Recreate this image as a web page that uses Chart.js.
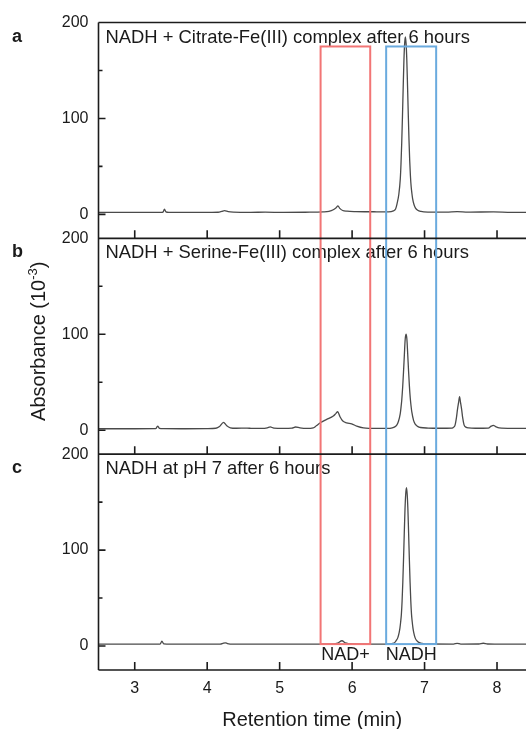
<!DOCTYPE html>
<html>
<head>
<meta charset="utf-8">
<script src="https://cdn.jsdelivr.net/npm/chart.js@4.4.1/dist/chart.umd.min.js"></script>
<style>
  html, body { margin: 0; padding: 0; background: #fff; }
  canvas { display: block; }
</style>
</head>
<body>
<canvas id="hplcChart" width="526" height="729"></canvas>
<script>
// Retention time (min) and absorbance (10^-3) for each chromatogram
const timeA = [2.50, 3.00, 3.37, 3.39, 3.41, 3.43, 3.47, 3.70, 3.95, 4.15, 4.20, 4.24, 4.29, 4.36, 4.60, 4.80, 5.05, 5.35,
  5.60, 5.68, 5.74, 5.78, 5.805, 5.83, 5.87, 5.93, 6.05, 6.30, 6.50, 6.57, 6.60, 6.62, 6.645, 6.665, 6.675, 6.685, 6.695,
  6.705, 6.715, 6.725, 6.735, 6.745, 6.755, 6.765, 6.775, 6.785, 6.795, 6.805, 6.815, 6.825, 6.835, 6.855, 6.875, 6.905,
  6.95, 7.05, 7.30, 7.45, 7.60, 7.95, 8.20, 8.40];
const absA = [2.0, 2.0, 2.1, 2.3, 5.3, 2.6, 2.1, 2.1, 2.0, 2.2, 3.0, 3.9, 2.8, 2.3, 2.1, 2.3, 2.0, 2.2,
  2.6, 3.2, 4.8, 7.0, 8.8, 6.2, 4.0, 3.3, 2.9, 2.7, 2.6, 3.6, 5.5, 11, 21, 37, 53, 75, 102,
  132, 160, 178, 185, 178, 161, 134, 105, 78, 56, 40, 29, 22, 16.5, 10, 6.5, 4.2,
  3.0, 2.4, 2.3, 2.8, 2.3, 2.6, 2.1, 2.1];

const timeB = [2.50, 3.00, 3.29, 3.316, 3.34, 3.40, 3.70, 4.00, 4.12, 4.17, 4.225, 4.27, 4.32, 4.40, 4.55, 4.62, 4.75,
  4.83, 4.87, 4.92, 5.05, 5.17, 5.22, 5.28, 5.373, 5.464, 5.51, 5.566, 5.649, 5.741, 5.778, 5.80, 5.833, 5.868, 5.925,
  5.994, 6.064, 6.156, 6.34, 6.50, 6.554, 6.589, 6.614, 6.639, 6.664, 6.674, 6.686, 6.698, 6.709, 6.721, 6.732, 6.744,
  6.756, 6.767, 6.779, 6.79, 6.802, 6.814, 6.824, 6.849, 6.874, 6.904, 6.944, 7.05, 7.20, 7.38, 7.40, 7.42, 7.44,
  7.455, 7.47, 7.483, 7.496, 7.511, 7.526, 7.545, 7.57, 7.61, 7.70, 7.88, 7.92, 7.95, 7.98, 8.03, 8.20, 8.40];
const absB = [1.5, 1.5, 1.6, 4.3, 2.0, 1.6, 1.5, 1.6, 2.0, 3.8, 8.2, 4.5, 2.5, 2.0, 2.2, 1.8, 1.8,
  2.4, 3.4, 2.2, 1.9, 2.2, 3.3, 2.4, 1.8, 2.4, 4.9, 8.0, 11.2, 14.7, 17.5, 19.2, 14.0, 9.8, 7.7,
  6.6, 4.2, 2.4, 1.8, 1.8, 2.5, 3.5, 5, 9, 17, 23, 32, 45, 60, 78, 94, 100,
  95, 80, 62, 47, 34, 25, 19, 10, 6, 4, 2.8, 2.2, 2.0, 2.2, 3.0, 5.0, 13,
  22, 29, 35, 29, 22, 13, 5.5, 3.2, 2.3, 2.0, 2.2, 4.2, 5.0, 3.8, 2.4, 1.9, 1.9];

const timeC = [2.50, 3.00, 3.35, 3.375, 3.40, 3.50, 3.90, 4.18, 4.225, 4.25, 4.28, 4.35, 4.80, 5.30, 5.70, 5.80, 5.86,
  5.91, 6.00, 6.30, 6.50, 6.56, 6.59, 6.61, 6.63, 6.65, 6.66, 6.67, 6.68, 6.69, 6.70, 6.71, 6.72, 6.73, 6.74, 6.75,
  6.76, 6.77, 6.78, 6.79, 6.80, 6.81, 6.82, 6.83, 6.84, 6.85, 6.87, 6.89, 6.92, 6.965, 7.05, 7.40, 7.45, 7.50, 7.75,
  7.81, 7.87, 8.10, 8.40];
const absC = [1.9, 1.9, 2.0, 5.0, 2.2, 1.9, 1.9, 2.0, 3.0, 3.3, 2.6, 2.0, 1.9, 1.9, 2.0, 3.0, 5.5,
  3.2, 2.2, 2.0, 2.0, 2.7, 3.8, 5.8, 8.5, 14.3, 18.7, 25, 33, 47, 66.8, 91, 117.5, 142.5, 158.5, 165,
  158.5, 142.5, 117.5, 91, 66.8, 47, 33, 25, 18.7, 14.3, 8.5, 5.8, 3.8, 2.7, 2.1, 2.0, 2.8, 2.0, 2.1,
  2.9, 2.1, 1.9, 1.9];

const panelTitles = [
  'NADH + Citrate-Fe(III) complex after 6 hours',
  'NADH + Serine-Fe(III) complex after 6 hours',
  'NADH at pH 7 after 6 hours'
];
const panelLetters = ['a', 'b', 'c'];
const xTicks = [3, 4, 5, 6, 7, 8];
const yTicks = [0, 50, 100, 150, 200];
const yTickLabels = [0, 100, 200];

// retention windows marked across all three runs
const windowLabels = ['NAD+', 'NADH'];
const windowRanges = [[5.565, 6.25], [6.47, 7.16]];
const windowTop = 175;    // read on the top panel
const windowBottom = 2;   // read on the bottom panel

const panelAxes = ['yA', 'yB', 'yC'];
const FONT = '"Liberation Sans", Arial, Helvetica, sans-serif';
const INK = '#1a1a1a';
const windowColors = ['#f27575', '#6aaade'];

Chart.defaults.font.family = FONT;
Chart.defaults.color = INK;

const toPoints = (t, a) => t.map((v, i) => ({ x: v, y: a[i] }));

function panelAxis(weight) {
  return {
    type: 'linear',
    position: 'left',
    stack: 'runs',
    weight: weight,
    min: -25,
    max: 200,
    grid: { display: false, drawTicks: false },
    border: { display: false },
    afterBuildTicks(scale) {
      scale.ticks = yTicks.map(v => ({ value: v }));
    },
    ticks: {
      autoSkip: false,
      padding: 10,
      font: { size: 16 },
      color: INK,
      callback: v => yTickLabels.includes(v) ? String(v) : ''
    },
    afterFit(scale) { scale.width = 98.5; }
  };
}

const panelDecor = {
  id: 'panelDecor',
  beforeDatasetsDraw(chart) {
    const { ctx, chartArea, scales } = chart;
    ctx.save();
    ctx.fillStyle = INK;
    ctx.textAlign = 'left';
    ctx.textBaseline = 'alphabetic';
    panelAxes.forEach((id, i) => {
      const s = scales[id];
      ctx.font = '18.4px ' + FONT;
      ctx.fillText(panelTitles[i], chartArea.left + 7, s.top + 20);
      ctx.font = 'bold 18px ' + FONT;
      ctx.fillText(panelLetters[i], 12, s.top + 19);
    });
    ctx.restore();
  },
  afterDatasetsDraw(chart) {
    const { ctx, chartArea, scales } = chart;
    const x = scales.x;
    ctx.save();

    // NAD+ / NADH windows
    ctx.lineWidth = 2;
    windowRanges.forEach((r, i) => {
      const left = x.getPixelForValue(r[0]);
      const right = x.getPixelForValue(r[1]);
      const top = scales.yA.getPixelForValue(windowTop);
      const bottom = scales.yC.getPixelForValue(windowBottom);
      ctx.strokeStyle = windowColors[i];
      ctx.strokeRect(left, top, right - left, bottom - top);
      ctx.fillStyle = INK;
      ctx.font = '18px ' + FONT;
      ctx.textAlign = 'center';
      ctx.textBaseline = 'alphabetic';
      ctx.fillText(windowLabels[i], (left + right) / 2, scales.yC.getPixelForValue(-15));
    });

    // panel frames with inward ticks
    ctx.strokeStyle = '#1c1c1c';
    ctx.lineWidth = 1.6;
    ctx.beginPath();
    ctx.moveTo(chartArea.left, chartArea.top);
    ctx.lineTo(chartArea.left, chartArea.bottom);
    panelAxes.forEach(id => {
      const s = scales[id];
      ctx.moveTo(chartArea.left, s.top);
      ctx.lineTo(chartArea.right, s.top);
      ctx.moveTo(chartArea.left, s.bottom);
      ctx.lineTo(chartArea.right, s.bottom);
      x.ticks.forEach(t => {
        const px = x.getPixelForValue(t.value);
        ctx.moveTo(px, s.bottom);
        ctx.lineTo(px, s.bottom - 8);
      });
      s.ticks.forEach(t => {
        const len = yTickLabels.includes(t.value) ? 7 : 4;
        const py = s.getPixelForValue(t.value);
        ctx.moveTo(chartArea.left, py);
        ctx.lineTo(chartArea.left + len, py);
      });
    });
    ctx.stroke();

    // y axis title with superscript exponent
    const main = 'Absorbance (10';
    const sup = '-3';
    const tail = ')';
    ctx.font = '20px ' + FONT;
    const wMain = ctx.measureText(main).width;
    const wTail = ctx.measureText(tail).width;
    ctx.font = '13px ' + FONT;
    const wSup = ctx.measureText(sup).width;
    const total = wMain + wSup + wTail;
    ctx.translate(45, (chartArea.top + chartArea.bottom) / 2 - 5);
    ctx.rotate(-Math.PI / 2);
    ctx.fillStyle = INK;
    ctx.textAlign = 'left';
    ctx.textBaseline = 'alphabetic';
    let cx = -total / 2;
    ctx.font = '20px ' + FONT;
    ctx.fillText(main, cx, 0);
    cx += wMain;
    ctx.font = '13px ' + FONT;
    ctx.fillText(sup, cx, -8);
    cx += wSup;
    ctx.font = '20px ' + FONT;
    ctx.fillText(tail, cx, 0);

    ctx.restore();
  }
};

const traceStyle = {
  borderColor: '#4a4a4a',
  borderWidth: 1.3,
  pointRadius: 0,
  cubicInterpolationMode: 'monotone',
  fill: false
};

new Chart(document.getElementById('hplcChart'), {
  type: 'line',
  data: {
    datasets: [
      Object.assign({ label: panelTitles[0], data: toPoints(timeA, absA), yAxisID: 'yA' }, traceStyle),
      Object.assign({ label: panelTitles[1], data: toPoints(timeB, absB), yAxisID: 'yB' }, traceStyle),
      Object.assign({ label: panelTitles[2], data: toPoints(timeC, absC), yAxisID: 'yC' }, traceStyle)
    ]
  },
  options: {
    responsive: false,
    animation: false,
    layout: { padding: { top: 22.5, right: 0, bottom: 0, left: 0 } },
    plugins: {
      legend: { display: false },
      tooltip: { enabled: false }
    },
    scales: {
      x: {
        type: 'linear',
        min: 2.5,
        max: 8.4,
        grid: { display: false },
        border: { display: false },
        afterBuildTicks(scale) {
          scale.ticks = xTicks.map(v => ({ value: v }));
        },
        ticks: {
          padding: 1,
          maxRotation: 0,
          autoSkip: false,
          font: { size: 16 },
          color: INK
        },
        title: {
          display: true,
          text: 'Retention time (min)',
          color: INK,
          font: { size: 20, lineHeight: 0.9 },
          padding: { top: 0, bottom: 0 }
        },
        afterFit(scale) { scale.height = 59; }
      },
      yA: panelAxis(3),
      yB: panelAxis(2),
      yC: panelAxis(1)
    }
  },
  plugins: [panelDecor]
});
</script>
</body>
</html>
